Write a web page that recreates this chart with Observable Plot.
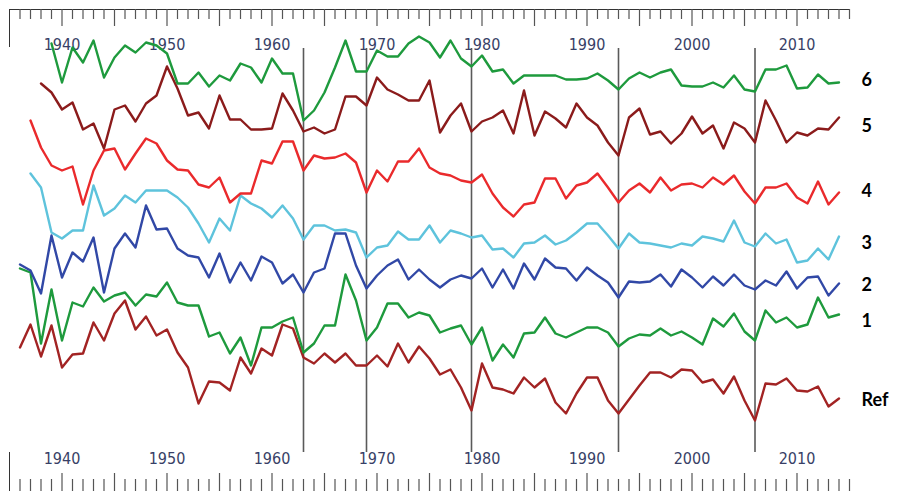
<!DOCTYPE html>
<html>
<head>
<meta charset="utf-8">
<script src="https://cdn.jsdelivr.net/npm/d3@7"></script>
<script src="https://cdn.jsdelivr.net/npm/@observablehq/plot@0.6"></script>
<style>
  html, body { margin: 0; padding: 0; background: #fff; }
  svg { display: block; }
</style>
</head>
<body>
<div id="chart"></div>
<script>
// ---- data (stacked index values) ----
const years = d3.range(1936, 2015);

const refStart = 1936;
const ref = [
  15.3, 17.6, 14.4, 17.5, 13.3, 14.6, 14.7, 17.8, 16.0, 18.7,
  20.0, 17.1, 18.4, 16.5, 17.1, 14.8, 13.3, 9.7, 11.9, 11.8,
  11.0, 14.3, 12.7, 15.2, 14.5, 17.6, 17.2, 14.3, 13.7, 14.7,
  13.8, 14.7, 13.5, 13.5, 14.5, 13.4, 15.7, 13.8, 15.4, 14.2,
  12.6, 13.1, 11.3, 9.0, 13.7, 11.3, 11.1, 10.7, 12.3, 11.3,
  12.2, 9.8, 8.7, 10.7, 12.3, 12.3, 10.0, 8.7, 10.1, 11.5,
  12.8, 12.8, 12.3, 13.1, 13.0, 11.8, 12.1, 10.7, 12.4, 10.0,
  8.0, 11.7, 11.6, 12.2, 11.0, 10.9, 11.4, 9.4, 10.2
];

const s1Start = 1936;
const s1 = [
  23.2, 22.8, 15.7, 21.1, 16.0, 19.8, 19.4, 21.3, 19.9, 20.5,
  20.8, 19.5, 20.6, 20.4, 21.8, 19.8, 19.5, 19.5, 16.4, 16.8,
  14.7, 16.3, 13.5, 17.3, 17.3, 17.9, 18.3, 14.8, 15.7, 17.5,
  17.5, 22.6, 20.0, 16.0, 17.3, 19.7, 19.7, 18.3, 18.8, 18.5,
  16.8, 17.2, 17.5, 15.6, 17.3, 14.0, 15.6, 14.3, 16.7, 16.8,
  18.3, 16.7, 16.3, 16.8, 17.3, 17.3, 16.8, 15.4, 16.2, 16.6,
  16.5, 17.2, 16.5, 16.9, 16.3, 15.6, 18.2, 17.4, 18.7, 16.9,
  16.0, 19.0, 17.8, 18.3, 17.3, 17.6, 20.3, 18.3, 18.6
];

const s2Start = 1936;
const s2 = [
  23.6, 23.0, 20.7, 26.5, 22.3, 24.8, 23.9, 26.3, 20.8, 25.2,
  26.7, 25.3, 29.5, 27.1, 27.2, 25.2, 24.5, 24.3, 22.3, 24.7,
  21.8, 23.8, 22.0, 24.4, 23.8, 21.7, 22.6, 20.8, 22.8, 23.2,
  26.7, 26.7, 23.5, 21.2, 22.5, 23.5, 24.1, 22.1, 23.1, 22.1,
  21.3, 22.1, 22.5, 22.2, 23.2, 21.3, 23.1, 21.2, 23.7, 22.1,
  24.2, 23.3, 23.2, 22.0, 23.3, 22.5, 21.8, 20.3, 21.9, 21.8,
  21.9, 22.6, 21.4, 23.1, 22.3, 21.3, 22.4, 21.5, 22.6, 21.5,
  21.1, 22.0, 21.5, 22.9, 21.2, 22.3, 22.4, 20.5, 21.7
];

const s3Start = 1937;
const s3 = [
  32.7, 31.3, 26.8, 26.2, 27.0, 27.0, 31.5, 28.5, 29.2, 30.5,
  29.8, 31.0, 31.0, 31.0, 30.3, 29.3, 27.7, 25.8, 28.2, 27.0,
  30.5, 29.7, 29.2, 28.3, 29.5, 28.2, 26.1, 27.5, 27.5, 27.0,
  27.1, 26.8, 24.3, 25.3, 25.5, 26.9, 26.1, 26.1, 27.5, 25.8,
  27.0, 26.7, 26.3, 26.5, 25.1, 25.2, 24.3, 25.7, 25.8, 26.5,
  25.6, 26.0, 26.8, 27.7, 27.7, 26.5, 25.2, 26.7, 25.8, 25.7,
  25.5, 25.3, 25.7, 25.5, 26.4, 26.2, 25.9, 28.0, 25.8, 25.4,
  26.7, 25.7, 26.1, 23.8, 24.0, 25.2, 24.1, 26.4
];

const s4Start = 1937;
const s4 = [
  38.0, 35.3, 33.5, 33.0, 33.4, 29.6, 33.0, 35.0, 35.2, 33.1,
  34.7, 36.2, 35.7, 34.0, 33.1, 33.0, 31.6, 31.3, 32.3, 29.8,
  30.7, 30.7, 34.0, 33.7, 35.9, 35.9, 33.0, 34.5, 34.2, 34.3,
  34.7, 33.8, 30.8, 33.0, 31.9, 33.9, 33.9, 35.2, 33.3, 32.7,
  32.5, 32.0, 31.8, 32.6, 30.7, 29.3, 28.4, 29.6, 29.8, 32.2,
  32.2, 30.2, 31.5, 31.8, 32.7, 31.3, 29.8, 31.0, 31.7, 30.8,
  32.3, 31.0, 31.6, 31.7, 31.3, 32.3, 31.6, 32.5, 30.9, 29.7,
  31.3, 31.3, 31.7, 30.3, 29.7, 31.9, 29.6, 30.8
];

const s5Start = 1938;
const s5 = [
  41.7, 40.8, 39.1, 39.8, 37.1, 37.7, 35.2, 39.1, 39.5, 37.9,
  39.7, 40.5, 43.4, 41.2, 38.5, 38.8, 37.2, 40.5, 38.1, 38.1,
  37.1, 37.1, 37.2, 40.7, 39.0, 36.9, 37.3, 36.7, 37.1, 40.4,
  40.4, 39.5, 42.3, 41.1, 40.6, 40.0, 40.0, 42.0, 36.8, 38.5,
  39.7, 36.9, 37.9, 38.3, 39.0, 36.7, 41.0, 36.5, 38.9, 38.2,
  37.3, 39.7, 38.3, 37.5, 35.8, 34.5, 38.3, 39.2, 36.6, 36.9,
  35.7, 36.7, 38.4, 36.7, 37.5, 35.2, 37.8, 37.2, 35.8, 40.0,
  38.0, 35.8, 36.8, 36.5, 37.2, 37.1, 38.3
];

const s6Start = 1939;
const s6 = [
  45.7, 41.8, 45.3, 43.8, 46.0, 42.3, 44.3, 45.5, 44.8, 45.8,
  45.5, 44.7, 41.7, 41.7, 42.8, 41.4, 42.5, 42.0, 43.7, 43.3,
  41.8, 44.2, 42.7, 42.7, 38.0, 39.0, 40.8, 43.3, 46.0, 42.9,
  42.9, 45.0, 44.4, 44.4, 45.7, 46.4, 45.8, 44.3, 46.0, 44.2,
  43.4, 44.5, 42.9, 43.1, 41.7, 42.5, 42.5, 42.5, 42.5, 42.1,
  42.1, 42.2, 42.7, 42.0, 41.1, 42.2, 42.8, 42.3, 42.8, 43.1,
  41.5, 41.4, 41.4, 41.8, 41.3, 42.5, 41.1, 40.9, 43.1, 43.1,
  43.5, 41.2, 41.3, 42.6, 41.7, 41.8
];

const breakYears = [1963, 1969, 1979, 1993, 2006];
const decadeLabels = [1940, 1950, 1960, 1970, 1980, 1990, 2000, 2010];
const seriesNames = ["6", "5", "4", "3", "2", "1", "Ref"];
const seriesLabelY = [42.0, 37.4, 30.9, 25.7, 21.5, 17.9, 10.0];

// ---- build table ----
const defs = [
  { name: "Ref", start: refStart, values: ref, color: "#a22323" },
  { name: "1",   start: s1Start,  values: s1,  color: "#1e9a3d" },
  { name: "2",   start: s2Start,  values: s2,  color: "#3148a6" },
  { name: "3",   start: s3Start,  values: s3,  color: "#5ec3dc" },
  { name: "4",   start: s4Start,  values: s4,  color: "#ea2a2c" },
  { name: "5",   start: s5Start,  values: s5,  color: "#8b1b1b" },
  { name: "6",   start: s6Start,  values: s6,  color: "#1e9a3d" }
];
const rows = defs.flatMap(s => s.values.map((v, i) => ({ series: s.name, year: s.start + i, value: v })));

const minorTicks = years.filter(y => y % 5 !== 0).concat([2015]);
const majorTicks = years.filter(y => y % 5 === 0);

const tickColor = "#555";
const labelFont = "'Liberation Sans Narrow', 'Arial Narrow', 'DejaVu Sans Condensed', sans-serif";

const chart = Plot.plot({
  width: 897,
  height: 491,
  marginLeft: 9,
  marginRight: 48,
  marginTop: 9,
  marginBottom: 0,
  x: { domain: [1935, 2015], axis: null },
  y: { domain: [0.9, 49.1], axis: null },
  marks: [
    // top frame line
    Plot.ruleY([49.1], { stroke: "#333", strokeWidth: 1 }),
    // left frame stubs
    Plot.ruleX([1935], { stroke: "#333", insetBottom: 444 }),
    Plot.ruleX([1935], { stroke: "#333", insetTop: 443 }),
    // top ticks
    Plot.ruleX(minorTicks, { stroke: tickColor, strokeWidth: 1.2, insetBottom: 472 }),
    Plot.ruleX(majorTicks, { stroke: tickColor, strokeWidth: 1.2, insetBottom: 465 }),
    // bottom ticks
    Plot.ruleX(minorTicks, { stroke: tickColor, strokeWidth: 1.2, insetTop: 470 }),
    Plot.ruleX(majorTicks, { stroke: tickColor, strokeWidth: 1.2, insetTop: 464 }),
    // tick labels
    Plot.text(decadeLabels, { x: d => d, text: d => String(d), frameAnchor: "top", dy: 29,
      fill: "#383f66", fontSize: 16, fontFamily: labelFont }),
    Plot.text(decadeLabels, { x: d => d, text: d => String(d), frameAnchor: "bottom", dy: -28,
      fill: "#383f66", fontSize: 16, fontFamily: labelFont }),
    // break lines
    Plot.ruleX(breakYears, { stroke: "#5a5a5a", strokeWidth: 1.6, insetTop: 39, insetBottom: 39 }),
    // series lines
    ...defs.map(s => Plot.line(rows.filter(r => r.series === s.name), {
      x: "year", y: "value", stroke: s.color, strokeWidth: 2.4,
      strokeLinejoin: "round", strokeLinecap: "round"
    })),
    // series labels
    Plot.text(seriesNames, { x: () => 2015, y: (d, i) => seriesLabelY[i], text: d => d,
      dx: 12, textAnchor: "start", fill: "#000", fontSize: 18, fontWeight: "bold",
      fontFamily: "Lato, 'Open Sans', sans-serif" })
  ]
});

document.getElementById("chart").appendChild(chart);
</script>
</body>
</html>
